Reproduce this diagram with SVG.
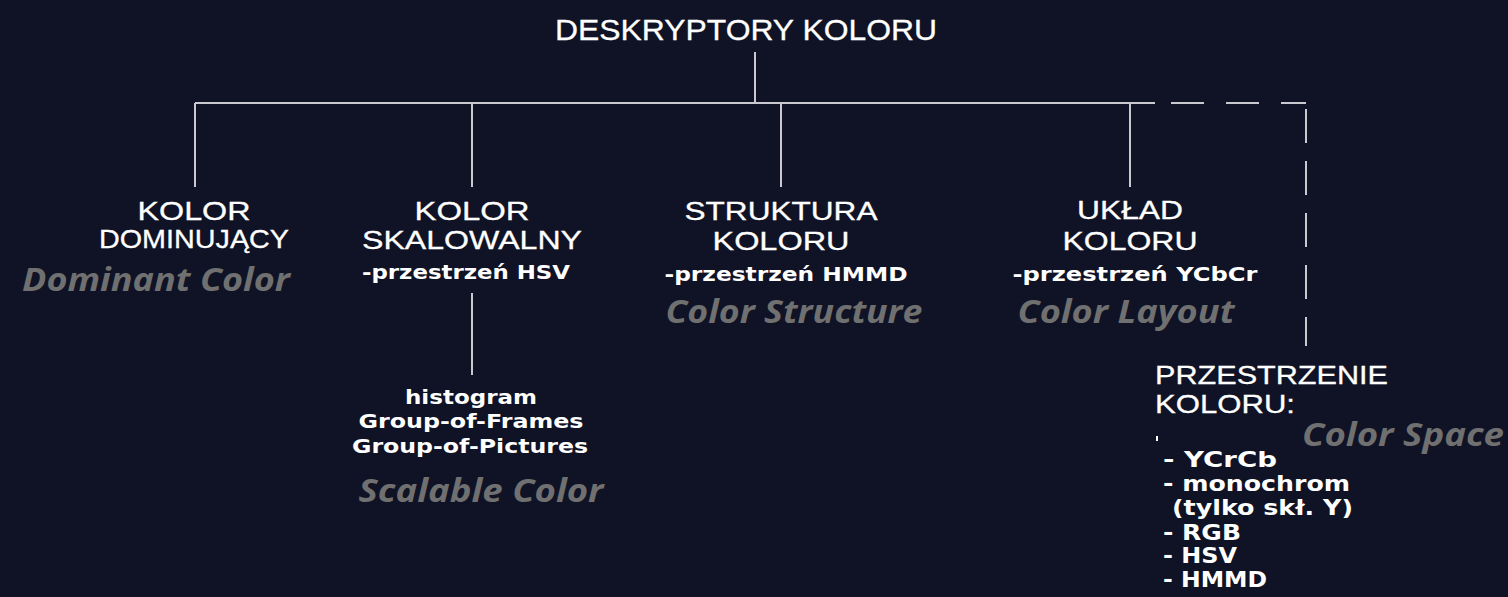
<svg xmlns="http://www.w3.org/2000/svg" width="1508" height="597" viewBox="0 0 1508 597">
<style>
.bg{fill:#0f1325}
.ln{stroke:#c9c9cf;stroke-width:2;fill:none}
.dash{stroke:#c9c9cf;stroke-width:2;fill:none}
.cap{font-family:"Liberation Sans",Arial,sans-serif;font-size:26px;fill:#ffffff;stroke:#ffffff;stroke-width:0.3;text-anchor:middle}
.title{font-family:"Liberation Sans",Arial,sans-serif;font-size:30px;fill:#ffffff;stroke:#ffffff;stroke-width:0.3;text-anchor:middle}
.sub{font-family:"DejaVu Sans",sans-serif;font-weight:bold;font-size:20px;fill:#ffffff;text-anchor:middle}
.lst{font-family:"DejaVu Sans",sans-serif;font-weight:bold;font-size:22px;fill:#ffffff}
.en{font-family:"Open Sans",sans-serif;font-weight:bold;font-style:italic;font-size:33px;fill:#707070;text-anchor:middle}
</style>
<rect class="bg" x="0" y="0" width="1508" height="597"/>
<g id="connectors">
<line class="ln" x1="755" y1="52" x2="755" y2="103"/>
<line class="ln" x1="195" y1="103" x2="1155" y2="103"/>
<line class="ln" x1="195" y1="103" x2="195" y2="187"/>
<line class="ln" x1="472" y1="103" x2="472" y2="187"/>
<line class="ln" x1="781" y1="103" x2="781" y2="187"/>
<line class="ln" x1="1130" y1="103" x2="1130" y2="187"/>
<line class="ln" x1="472" y1="293" x2="472" y2="375"/>
<line class="dash" x1="1171" y1="103" x2="1306" y2="103" stroke-dasharray="33 22"/>
<line class="dash" x1="1306" y1="109" x2="1306" y2="346" stroke-dasharray="34 18"/>
</g>
<g id="root">
<text class="title" x="746" y="40" textLength="382" lengthAdjust="spacingAndGlyphs">DESKRYPTORY KOLORU</text>
</g>
<g id="dominant">
<text class="cap" x="194" y="220" textLength="113" lengthAdjust="spacingAndGlyphs">KOLOR</text>
<text class="cap" x="194" y="248" textLength="190" lengthAdjust="spacingAndGlyphs">DOMINUJĄCY</text>
<text class="en" x="156" y="291" textLength="268" lengthAdjust="spacingAndGlyphs">Dominant Color</text>
</g>
<g id="scalable">
<text class="cap" x="472" y="220" textLength="115" lengthAdjust="spacingAndGlyphs">KOLOR</text>
<text class="cap" x="472" y="249" textLength="220" lengthAdjust="spacingAndGlyphs">SKALOWALNY</text>
<text class="sub" x="466" y="279" textLength="208" lengthAdjust="spacingAndGlyphs">-przestrzeń HSV</text>
</g>
<g id="scalable-detail">
<text class="sub" x="471" y="404" textLength="132" lengthAdjust="spacingAndGlyphs">histogram</text>
<text class="sub" x="471" y="428" textLength="225" lengthAdjust="spacingAndGlyphs">Group-of-Frames</text>
<text class="sub" x="470" y="453" textLength="236" lengthAdjust="spacingAndGlyphs">Group-of-Pictures</text>
<text class="en" x="481" y="502" textLength="245" lengthAdjust="spacingAndGlyphs">Scalable Color</text>
</g>
<g id="structure">
<text class="cap" x="781" y="220" textLength="193" lengthAdjust="spacingAndGlyphs">STRUKTURA</text>
<text class="cap" x="781" y="250" textLength="137" lengthAdjust="spacingAndGlyphs">KOLORU</text>
<text class="sub" x="786" y="281" textLength="243" lengthAdjust="spacingAndGlyphs">-przestrzeń HMMD</text>
<text class="en" x="794" y="323" textLength="257" lengthAdjust="spacingAndGlyphs">Color Structure</text>
</g>
<g id="layout">
<text class="cap" x="1130" y="219" textLength="106" lengthAdjust="spacingAndGlyphs">UKŁAD</text>
<text class="cap" x="1130" y="250" textLength="135" lengthAdjust="spacingAndGlyphs">KOLORU</text>
<text class="sub" x="1135" y="281" textLength="245" lengthAdjust="spacingAndGlyphs">-przestrzeń YCbCr</text>
<text class="en" x="1126" y="323" textLength="217" lengthAdjust="spacingAndGlyphs">Color Layout</text>
</g>
<g id="colorspace">
<text class="cap" x="1155" y="384" style="text-anchor:start" textLength="233" lengthAdjust="spacingAndGlyphs">PRZESTRZENIE</text>
<text class="cap" x="1155" y="413" style="text-anchor:start" textLength="140" lengthAdjust="spacingAndGlyphs">KOLORU:</text>
<text class="en" x="1403" y="446" textLength="202" lengthAdjust="spacingAndGlyphs">Color Space</text>
<rect x="1156" y="436" width="2" height="5" fill="#ffffff"/>
<text class="lst" x="1163" y="467" textLength="114" lengthAdjust="spacingAndGlyphs">- YCrCb</text>
<text class="lst" x="1163" y="491" textLength="187" lengthAdjust="spacingAndGlyphs">- monochrom</text>
<text class="lst" x="1172" y="515" textLength="181" lengthAdjust="spacingAndGlyphs">(tylko skł. Y)</text>
<text class="lst" x="1163" y="540" textLength="78" lengthAdjust="spacingAndGlyphs">- RGB</text>
<text class="lst" x="1163" y="563" textLength="74" lengthAdjust="spacingAndGlyphs">- HSV</text>
<text class="lst" x="1163" y="587" textLength="104" lengthAdjust="spacingAndGlyphs">- HMMD</text>
</g>
</svg>
